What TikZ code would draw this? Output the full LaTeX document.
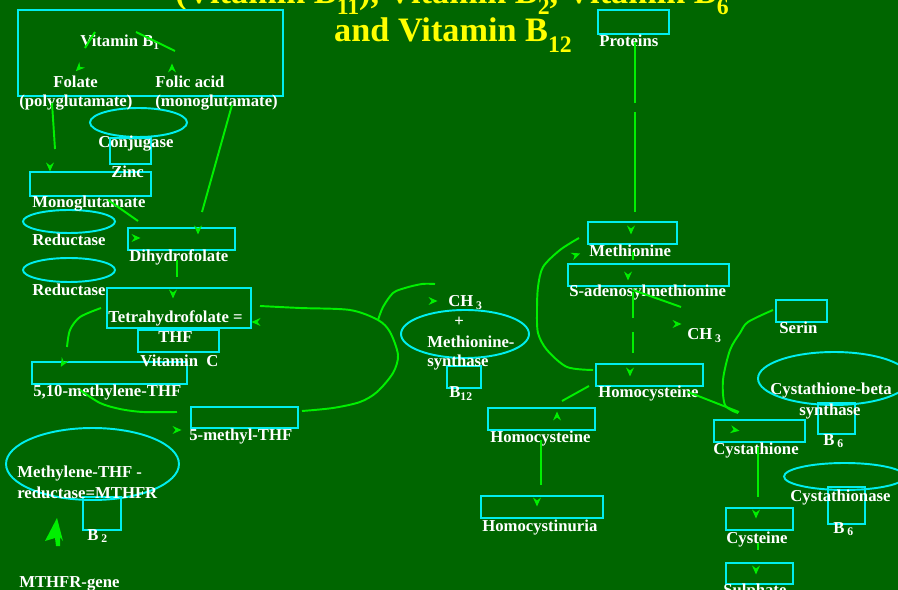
\documentclass[tikz,border=0pt]{standalone}
\usepackage{fontspec}
\setmainfont{Liberation Serif}
\usetikzlibrary{shapes.geometric, fit}

\definecolor{slidebg}{RGB}{0,102,0}
\definecolor{boxcyan}{RGB}{0,238,238}
\definecolor{penline}{RGB}{0,240,0}
\definecolor{titleyellow}{RGB}{255,255,0}

\newcommand\tsub[1]{\raisebox{-0.3em}{\fontsize{13.5}{13.5}\selectfont #1}}

\tikzset{
  box/.style={draw=boxcyan, line width=1.1pt, inner sep=0pt},
  bubble/.style={draw=boxcyan, line width=1.1pt, ellipse, inner sep=0pt},
  lbl/.style={text=white, font=\fontsize{9.5}{11}\selectfont\bfseries, anchor=base west, inner sep=0pt},
  titletxt/.style={text=titleyellow, font=\fontsize{19.5}{22}\selectfont\bfseries, anchor=base, inner sep=0pt},
  pen/.style={draw=penline, line width=1.1pt},
  headtip/.pic={\fill[penline] (4.5,0) -- (-4.5,-4) -- (-1.5,0) -- (-4.5,4) -- cycle;},
}

\begin{document}
\begin{tikzpicture}[x=0.02cm, y=-0.02cm]
\useasboundingbox (0,0) rectangle (898,590);
\fill[slidebg] (0,0) rectangle (898,590);

% title
\node[titletxt] (titleA) at (452,4) {(Vitamin B\tsub{11}), Vitamin B\tsub{2}, Vitamin B\tsub{6}};
\node[titletxt] (titleB) at (453,42) {and Vitamin B\tsub{12}};

% boxes
\node[box, fit={(18,10) (283,96)}] (bigbox) {};
\node[box, fit={(598,10) (669,34)}] (protbox) {};
\node[box, fit={(110,138) (151,164)}] (zincbox) {};
\node[box, fit={(30,172) (151,196)}] (monobox) {};
\node[box, fit={(128,228) (235,250)}] (dhfbox) {};
\node[box, fit={(107,288) (251,328)}] (thfbox) {};
\node[box, fit={(138,330) (219,352)}] (thfsmall) {};
\node[box, fit={(32,362) (187,384)}] (mthfbox) {};
\node[box, fit={(191,407) (298,428)}] (methylbox) {};
\node[box, fit={(83,497) (121,530)}] (btwobox) {};
\node[box, fit={(447,366) (481,388)}] (btwelvebox) {};
\node[box, fit={(588,222) (677,244)}] (metbox) {};
\node[box, fit={(568,264) (729,286)}] (sambox) {};
\node[box, fit={(596,364) (703,386)}] (hcybox) {};
\node[box, fit={(488,408) (595,430)}] (hcytwobox) {};
\node[box, fit={(481,496) (603,518)}] (hcuriabox) {};
\node[box, fit={(776,300) (827,322)}] (serbox) {};
\node[box, fit={(818,403) (855,434)}] (bsixabox) {};
\node[box, fit={(714,420) (805,442)}] (cthbox) {};
\node[box, fit={(828,487) (865,524)}] (bsixbbox) {};
\node[box, fit={(726,508) (793,530)}] (cysbox) {};
\node[box, fit={(726,563) (793,584)}] (sulbox) {};

% enzymes
\node[bubble, minimum width=1.94cm, minimum height=0.58cm] (conj) at (138.5,122.5) {};
\node[bubble, minimum width=1.84cm, minimum height=0.46cm] (redA) at (69,221.5) {};
\node[bubble, minimum width=1.84cm, minimum height=0.48cm] (redB) at (69,270) {};
\node[bubble, minimum width=3.46cm, minimum height=1.44cm] (mthfr) at (92.5,464) {};
\node[bubble, minimum width=2.56cm, minimum height=0.96cm] (msyn) at (465,334) {};
\node[bubble, minimum width=3.04cm, minimum height=1.06cm] (cbs) at (834,378.5) {};
\node[bubble, minimum width=2.42cm, minimum height=0.54cm] (cthase) at (844.5,476.5) {};

% labels
\node[lbl] (vitbone) at (80,47) {Vitamin B\textsubscript{1}};
\node[lbl] (folate) at (53,88) {Folate};
\node[lbl] (folic) at (155,88) {Folic acid};
\node[lbl] (poly) at (19,107) {(polyglutamate)};
\node[lbl] (mono) at (155,107) {(monoglutamate)};
\node[lbl] (conjl) at (98,148) {Conjugase};
\node[lbl] (zinc) at (111,178) {Zinc};
\node[lbl] (monol) at (32,208) {Monoglutamate};
\node[lbl] (redAl) at (32,246) {Reductase};
\node[lbl] (dhfl) at (129,262) {Dihydrofolate};
\node[lbl] (redBl) at (32,296) {Reductase};
\node[lbl] (thfl) at (108,323) {Tetrahydrofolate =};
\node[lbl] (thfs) at (158,343) {THF};
\node[lbl] (vitc) at (140,367) {Vitamin\enspace C};
\node[lbl] (mthfl) at (33,397) {5,10-methylene-THF};
\node[lbl] (methyll) at (189,440) {5-methyl-THF};
\node[lbl] (mthfrA) at (17,478) {Methylene-THF -};
\node[lbl] (mthfrB) at (17,498) {reductase=MTHFR};
\node[lbl] (btwo) at (87,540) {B\,\textsubscript{2}};
\node[lbl] (gene) at (19,587) {MTHFR-gene};
\node[lbl] (prot) at (599,47) {Proteins};
\node[lbl] (chA) at (448,307) {CH\,\textsubscript{3}};
\node[lbl, anchor=base] (plus) at (459,327) {+};
\node[lbl] (msynA) at (427,348) {Methionine-};
\node[lbl] (msynB) at (427,367) {synthase};
\node[lbl] (btwelve) at (449,398) {B\textsubscript{12}};
\node[lbl] (met) at (589,257) {Methionine};
\node[lbl] (sam) at (569,297) {S-adenosylmethionine};
\node[lbl] (chB) at (687,340) {CH\,\textsubscript{3}};
\node[lbl] (hcy) at (598,398) {Homocysteine};
\node[lbl] (hcytwo) at (490,442) {Homocysteine};
\node[lbl] (hcuria) at (482,531) {Homocystinuria};
\node[lbl] (ser) at (779,334) {Serin};
\node[lbl] (cbsA) at (770,395) {Cystathione-beta};
\node[lbl] (cbsB) at (799,416) {synthase};
\node[lbl] (bsixa) at (823,445) {B\,\textsubscript{6}};
\node[lbl] (cth) at (713,455) {Cystathione};
\node[lbl] (cthasel) at (790,501) {Cystathionase};
\node[lbl] (bsixb) at (833,533) {B\,\textsubscript{6}};
\node[lbl] (cys) at (726,543) {Cysteine};
\node[lbl] (sul) at (723,595) {Sulphate};

% folate side
\draw[pen] (85,48) -- (95,32);
\draw[pen] (136,32) -- (175,51);
\draw[pen] (52,103) -- (55,149);
\draw[pen] (232,105) -- (202,212);
\draw[pen] (108,200) -- (138,221);
\draw[pen] (177,260) -- (177,277);
\draw[pen] plot[smooth] coordinates {(101,308) (80,317) (70,330) (67,347)};
\draw[pen] plot[smooth] coordinates {(80,390) (100,403) (120,409) (143,412) (177,412)};
\draw[pen] plot[smooth] coordinates {(260,306) (300,308) (350,310) (378,320) (390,332) (398,355) (393,373) (377,392) (360,402) (333,408) (302,411)};
\draw[pen] plot[smooth] coordinates {(378,320) (383,307) (393,293) (405,288) (422,284) (435,284)};
\fill[penline] (57,518) -- (63,541) -- (60,537) -- (60,546) -- (56,546) -- (55,538) -- (45,541) -- cycle;

% methionine side
\draw[pen] (635,42) -- (635,103);
\draw[pen] (635,112) -- (635,212);
\draw[pen] (633,252) -- (633,260);
\draw[pen] (633,292) -- (633,318);
\draw[pen] (633,332) -- (633,353);
\draw[pen] (633,290) -- (681,307);
\draw[pen] plot[smooth] coordinates {(593,370) (567,367) (547,350) (538,333) (537,310) (538,287) (543,267) (560,250) (579,238)};
\draw[pen] (589,386) -- (562,401);
\draw[pen] (541,440) -- (541,485);
\draw[pen] (688,392) -- (739,412);
\draw[pen] plot[smooth] coordinates {(773,310) (748,322) (740,333) (730,350) (723,380) (725,405) (738,413)};
\draw[pen] (758,447) -- (758,497);
\draw[pen] (758,543) -- (758,550);

% arrow heads
\pic[rotate=-135] at (79,68) {headtip};
\pic[rotate=90] at (172,68) {headtip};
\pic[rotate=-90] at (50,167) {headtip};
\pic[rotate=-90] at (198,230) {headtip};
\pic[rotate=0] at (136,238) {headtip};
\pic[rotate=-90] at (173,294) {headtip};
\pic[rotate=-120] at (63,363) {headtip};
\pic[rotate=0] at (177,430) {headtip};
\pic[rotate=180] at (256,322) {headtip};
\pic[rotate=0] at (433,301) {headtip};
\pic[rotate=-90] at (631,230) {headtip};
\pic[rotate=-90] at (628,276) {headtip};
\pic[rotate=-90] at (630,372) {headtip};
\pic[rotate=0] at (677,324) {headtip};
\pic[rotate=20] at (576,255) {headtip};
\pic[rotate=90] at (557,416) {headtip};
\pic[rotate=-90] at (537,502) {headtip};
\pic[rotate=-10] at (735,430) {headtip};
\pic[rotate=-90] at (756,514) {headtip};
\pic[rotate=-90] at (756,570) {headtip};
\end{tikzpicture}
\end{document}
